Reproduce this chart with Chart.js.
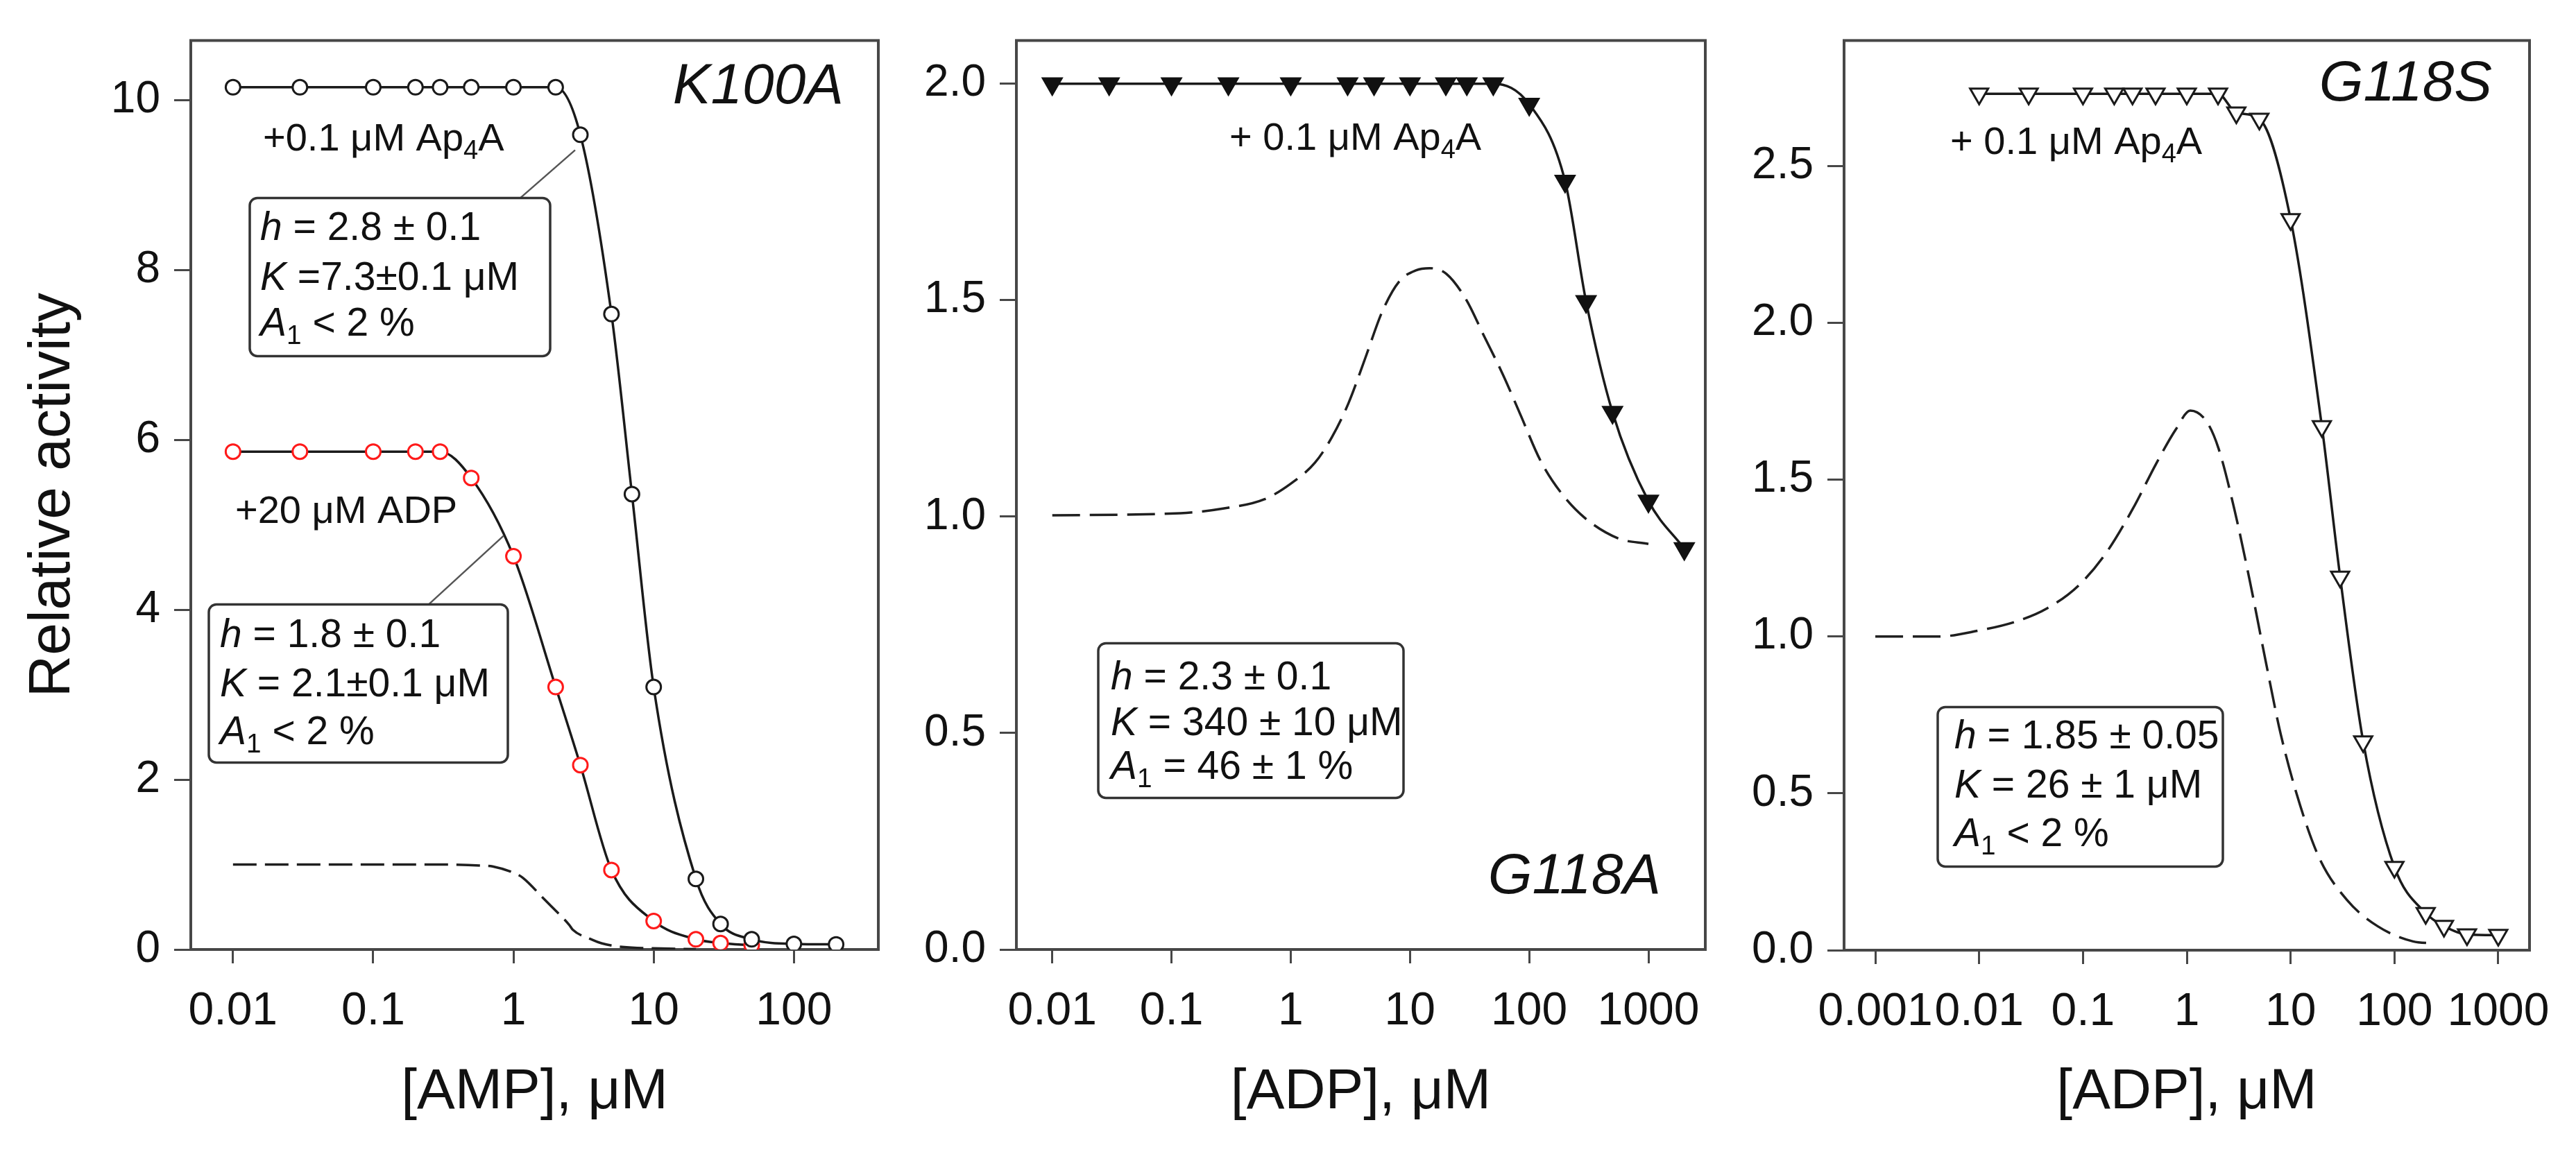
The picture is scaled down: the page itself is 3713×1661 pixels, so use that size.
<!DOCTYPE html>
<html><head><meta charset="utf-8">
<script src="https://cdn.jsdelivr.net/npm/chart.js@4.4.1/dist/chart.umd.min.js"></script>
<style>
html,body{margin:0;padding:0;background:#fff;}
#wrap{position:relative;width:3713px;height:1661px;overflow:hidden;background:#fff;}
.pc{position:absolute;top:0;height:1661px;}
</style></head><body>
<div id="wrap">
<div class="pc" style="left:0;width:1300px"><canvas id="c1"></canvas></div>
<div class="pc" style="left:1300px;width:1200px"><canvas id="c2"></canvas></div>
<div class="pc" style="left:2500px;width:1213px"><canvas id="c3"></canvas></div>
</div>
<script>
// ---------------- DATA ----------------
// Panel 1: K100A, [AMP]
const k100aAp4aX = [0.01,0.03,0.1,0.2,0.3,0.5,1,2,3,5,7,10,20,30,50,100,200];
const k100aAp4aY = [10.15,10.15,10.15,10.15,10.15,10.15,10.15,10.15,9.59,7.48,5.36,3.09,0.83,0.30,0.12,0.065,0.06];
const k100aAdpX = [0.01,0.03,0.1,0.2,0.3,0.5,1,2,3,5,10,20,30,50];
const k100aAdpY = [5.86,5.86,5.86,5.86,5.86,5.55,4.63,3.09,2.17,0.935,0.335,0.12,0.075,0.05];
const k100aCtrlX = [0.01,0.3,0.62,0.71,1.05,1.17,1.64,1.8,2.5,2.64,3.66,4.24,5.95,11.3,20];
const k100aCtrlY = [1.0,1.0,0.985,0.977,0.888,0.842,0.60,0.532,0.289,0.235,0.113,0.073,0.03,0.012,0.005];
const k100aXTicks = [0.01,0.1,1,10,100];
const k100aXLabels = ['0.01','0.1','1','10','100'];
const k100aYTicks = [0,2,4,6,8,10];
const k100aYLabels = ['0','2','4','6','8','10'];

// Panel 2: G118A, [ADP]
const g118aAp4aX = [0.01,0.03,0.1,0.3,1,3,5,10,20,30,50,100,200,300,500,1000,2000];
const g118aAp4aY = [2,2,2,2,2,2,2,2,2,2,2,1.953,1.775,1.497,1.241,1.036,0.926];
const g118aCtrlX = [0.01,0.119,0.276,0.60,1.01,1.60,2.21,3.05,4.24,5.86,8.1,11.2,14.6,20.2,29.8,41.2,60.7,84.3,124,184,290,555,1000];
const g118aCtrlY = [1.003,1.008,1.019,1.040,1.077,1.125,1.183,1.262,1.368,1.474,1.543,1.569,1.574,1.561,1.500,1.421,1.326,1.236,1.13,1.056,0.998,0.950,0.937];
const g118aXTicks = [0.01,0.1,1,10,100,1000];
const g118aXLabels = ['0.01','0.1','1','10','100','1000'];
const g118aYTicks = [0,0.5,1,1.5,2];
const g118aYLabels = ['0.0','0.5','1.0','1.5','2.0'];

// Panel 3: G118S, [ADP]
const g118sAp4aX = [0.01,0.03,0.1,0.2,0.3,0.5,1,2,3,5,10,20,30,50,100,200,300,500,1000];
const g118sAp4aY = [2.73,2.73,2.73,2.73,2.73,2.73,2.73,2.73,2.67,2.65,2.33,1.67,1.19,0.665,0.265,0.118,0.077,0.05,0.048];
const g118sCtrlX = [0.001,0.00405,0.0096,0.0228,0.0453,0.0904,0.166,0.303,0.509,0.783,1.08,1.56,2.02,2.86,4.03,5.70,8.04,12.4,19.0,34.9,69.2,151,233];
const g118sCtrlY = [1.0,1.0,1.018,1.048,1.09,1.162,1.265,1.408,1.552,1.66,1.72,1.684,1.60,1.408,1.18,0.928,0.688,0.46,0.292,0.16,0.076,0.028,0.022];
const g118sXTicks = [0.001,0.01,0.1,1,10,100,1000];
const g118sXLabels = ['0.001','0.01','0.1','1','10','100','1000'];
const g118sYTicks = [0,0.5,1,1.5,2,2.5];
const g118sYLabels = ['0.0','0.5','1.0','1.5','2.0','2.5'];

// ---------------- RENDERING ----------------
const FAM = "'Liberation Sans', Arial, sans-serif";
Chart.defaults.font.family = FAM;
Chart.defaults.color = '#111';

function pts(xs, ys){ return xs.map((x,i)=>({x:x, y:ys[i]})); }

const framePlugin = {
  id:'frame',
  beforeDatasetsDraw(chart){
    const {ctx, chartArea:a} = chart;
    ctx.save();
    ctx.strokeStyle = '#474747';
    ctx.lineWidth = 4;
    ctx.strokeRect(a.left, a.top, a.right-a.left, a.bottom-a.top);
    ctx.restore();
  }
};

function drawRich(ctx, x, y, segs, size, align){
  // measure
  const fontFor = (st)=> (st==='i' ? 'italic ' : '') + (st==='sub' ? size*0.68 : size) + 'px ' + FAM;
  let total = 0;
  for (const [t, st] of segs){ ctx.font = fontFor(st); total += ctx.measureText(t).width; }
  let cx = align === 'right' ? x - total : x;
  ctx.textAlign = 'left';
  ctx.textBaseline = 'middle';
  for (const [t, st] of segs){
    ctx.font = fontFor(st);
    ctx.fillText(t, cx, st==='sub' ? y + size*0.3 : y);
    cx += ctx.measureText(t).width;
  }
}

function roundRect(ctx, x, y, w, h, r){
  ctx.beginPath();
  ctx.moveTo(x+r, y);
  ctx.lineTo(x+w-r, y); ctx.arcTo(x+w, y, x+w, y+r, r);
  ctx.lineTo(x+w, y+h-r); ctx.arcTo(x+w, y+h, x+w-r, y+h, r);
  ctx.lineTo(x+r, y+h); ctx.arcTo(x, y+h, x, y+h-r, r);
  ctx.lineTo(x, y+r); ctx.arcTo(x, y, x+r, y, r);
  ctx.closePath();
}

const notesPlugin = {
  id:'notes',
  afterDatasetsDraw(chart, args, opts){
    const {ctx, chartArea:a} = chart;
    const L = a.left, T = a.top;
    ctx.save();
    ctx.fillStyle = '#111';
    for (const n of (opts.items || [])){
      if (n.type === 'line'){
        ctx.strokeStyle = '#555'; ctx.lineWidth = 2.5;
        ctx.beginPath(); ctx.moveTo(L+n.x1, T+n.y1); ctx.lineTo(L+n.x2, T+n.y2); ctx.stroke();
      } else if (n.type === 'box'){
        roundRect(ctx, L+n.dx, T+n.dy, n.w, n.h, 11);
        ctx.fillStyle = '#fff'; ctx.fill();
        ctx.strokeStyle = '#333'; ctx.lineWidth = 3.5; ctx.stroke();
        ctx.fillStyle = '#111';
      } else {
        ctx.fillStyle = '#111';
        drawRich(ctx, L+n.dx, T+n.dy, n.segs, n.size, n.align);
      }
    }
    ctx.restore();
  }
};

function solidSet(xs, ys, color, style, radius, fill, order){
  return {
    data: pts(xs, ys), order: order,
    borderColor: '#1a1a1a', borderWidth: 3.5,
    cubicInterpolationMode: 'monotone', fill: false,
    pointStyle: style, pointRadius: radius, pointHoverRadius: radius,
    pointRotation: style === 'triangle' ? 180 : 0,
    pointBorderColor: color, pointBorderWidth: fill ? 1.5 : 3,
    pointBackgroundColor: fill ? color : '#ffffff'
  };
}
function dashSet(xs, ys, dash){
  return {
    data: pts(xs, ys), order: 5,
    borderColor: '#1f1f1f', borderWidth: 3.5, borderDash: dash,
    cubicInterpolationMode: 'monotone', fill: false, pointRadius: 0, pointHoverRadius: 0
  };
}

function makeChart(id, c){
  return new Chart(document.getElementById(id), {
    type: 'line',
    data: { datasets: c.datasets },
    options: {
      animation: false, responsive: true, maintainAspectRatio: false,
      events: [],
      layout: { padding: { top: 48, right: c.padRight, bottom: 0, left: 0 } },
      plugins: { legend: {display:false}, tooltip: {enabled:false}, notes: {items: c.notes} },
      scales: {
        x: {
          type: 'logarithmic', min: c.xMin, max: c.xMax,
          afterFit: s => { s.height = c.xH; },
          afterBuildTicks: s => { s.ticks = c.xTicks.map(v => ({value: v})); },
          ticks: { autoSkip:false, maxRotation:0, minRotation:0, padding: 30, color:'#111',
                   font:{size:66}, callback: (v,i) => c.xLabels[i] },
          grid: { drawOnChartArea:false, drawTicks:true, tickLength:20, color:'#474747', lineWidth:3 },
          border: { display:false },
          title: { display:true, text:c.xTitle, color:'#111', font:{size:82, lineHeight:1}, padding:{top:0, bottom:45} }
        },
        y: {
          type: 'linear', min: 0, max: c.yMax,
          afterFit: s => { s.width = c.yW; },
          afterBuildTicks: s => { s.ticks = c.yTicks.map(v => ({value: v})); },
          ticks: { padding: 20, color:'#111', font:{size:64}, callback: (v,i) => c.yLabels[i] },
          grid: { drawOnChartArea:false, drawTicks:true, tickLength:24, color:'#474747', lineWidth:3 },
          border: { display:false },
          title: { display: !!c.yTitle, text: c.yTitle || '', color:'#111', font:{size:84, lineHeight:1}, padding:{top:35, bottom:0} }
        }
      }
    },
    plugins: [framePlugin, notesPlugin]
  });
}

const ap4aSegs = (sp) => [['+' + sp + '0.1 μM Ap',''],['4','sub'],['A','']];

makeChart('c1', {
  xMin: 0.005, xMax: 400, yMax: 10.7, xH: 292, yW: 275, padRight: 34,
  xTicks: k100aXTicks, xLabels: k100aXLabels, yTicks: k100aYTicks, yLabels: k100aYLabels,
  xTitle: '[AMP], μM', yTitle: 'Relative activity',
  datasets: [
    solidSet(k100aAp4aX, k100aAp4aY, '#1a1a1a', 'circle', 10.5, false, 1),
    solidSet(k100aAdpX, k100aAdpY, '#ff1a1a', 'circle', 10.5, false, 2),
    dashSet(k100aCtrlX, k100aCtrlY, [34, 12])
  ],
  notes: [
    {dx:941, dy:68, size:82, align:'right', segs:[['K100A','i']]},
    {dx:104, dy:143, size:56, segs: ap4aSegs('')},
    {dx:64, dy:680, size:56, segs:[['+20 μM ADP','']]},
    {type:'line', x1:475, y1:227, x2:554, y2:158},
    {type:'box', dx:85, dy:227, w:433, h:228},
    {dx:100, dy:272, size:57, segs:[['h','i'],[' = 2.8 ± 0.1','']]},
    {dx:100, dy:344, size:57, segs:[['K','i'],[' =7.3±0.1 μM','']]},
    {dx:100, dy:410, size:57, segs:[['A','i'],['1','sub'],[' < 2 %','']]},
    {type:'line', x1:343, y1:813, x2:451, y2:714},
    {type:'box', dx:26, dy:813, w:431, h:228},
    {dx:42, dy:859, size:57, segs:[['h','i'],[' = 1.8 ± 0.1','']]},
    {dx:42, dy:930, size:57, segs:[['K','i'],[' = 2.1±0.1 μM','']]},
    {dx:42, dy:999, size:57, segs:[['A','i'],['1','sub'],[' < 2 %','']]}
  ]
});

makeChart('c2', {
  xMin: 0.005, xMax: 3000, yMax: 2.1, xH: 292, yW: 165, padRight: 42,
  xTicks: g118aXTicks, xLabels: g118aXLabels, yTicks: g118aYTicks, yLabels: g118aYLabels,
  xTitle: '[ADP], μM',
  datasets: [
    solidSet(g118aAp4aX, g118aAp4aY, '#111111', 'triangle', 17, true, 1),
    dashSet(g118aCtrlX, g118aCtrlY, [40, 14])
  ],
  notes: [
    {dx:307, dy:142, size:56, segs: ap4aSegs(' ')},
    {dx:929, dy:1207, size:82, align:'right', segs:[['G118A','i']]},
    {type:'box', dx:118, dy:869, w:440, h:223},
    {dx:136, dy:920, size:57, segs:[['h','i'],[' = 2.3 ± 0.1','']]},
    {dx:136, dy:986, size:57, segs:[['K','i'],[' = 340 ± 10 μM','']]},
    {dx:136, dy:1049, size:57, segs:[['A','i'],['1','sub'],[' = 46 ± 1 %','']]}
  ]
});

makeChart('c3', {
  xMin: 0.0005, xMax: 2000, yMax: 2.9, xH: 291, yW: 158, padRight: 67,
  xTicks: g118sXTicks, xLabels: g118sXLabels, yTicks: g118sYTicks, yLabels: g118sYLabels,
  xTitle: '[ADP], μM',
  datasets: [
    solidSet(g118sAp4aX, g118sAp4aY, '#1a1a1a', 'triangle', 15, false, 1),
    dashSet(g118sCtrlX, g118sCtrlY, [40, 14])
  ],
  notes: [
    {dx:934, dy:64, size:82, align:'right', segs:[['G118S','i']]},
    {dx:153, dy:148, size:56, segs: ap4aSegs(' ')},
    {type:'box', dx:135, dy:961, w:411, h:230},
    {dx:159, dy:1005, size:57, segs:[['h','i'],[' = 1.85 ± 0.05','']]},
    {dx:159, dy:1076, size:57, segs:[['K','i'],[' = 26 ± 1 μM','']]},
    {dx:159, dy:1146, size:57, segs:[['A','i'],['1','sub'],[' < 2 %','']]}
  ]
});
</script>
</body></html>
